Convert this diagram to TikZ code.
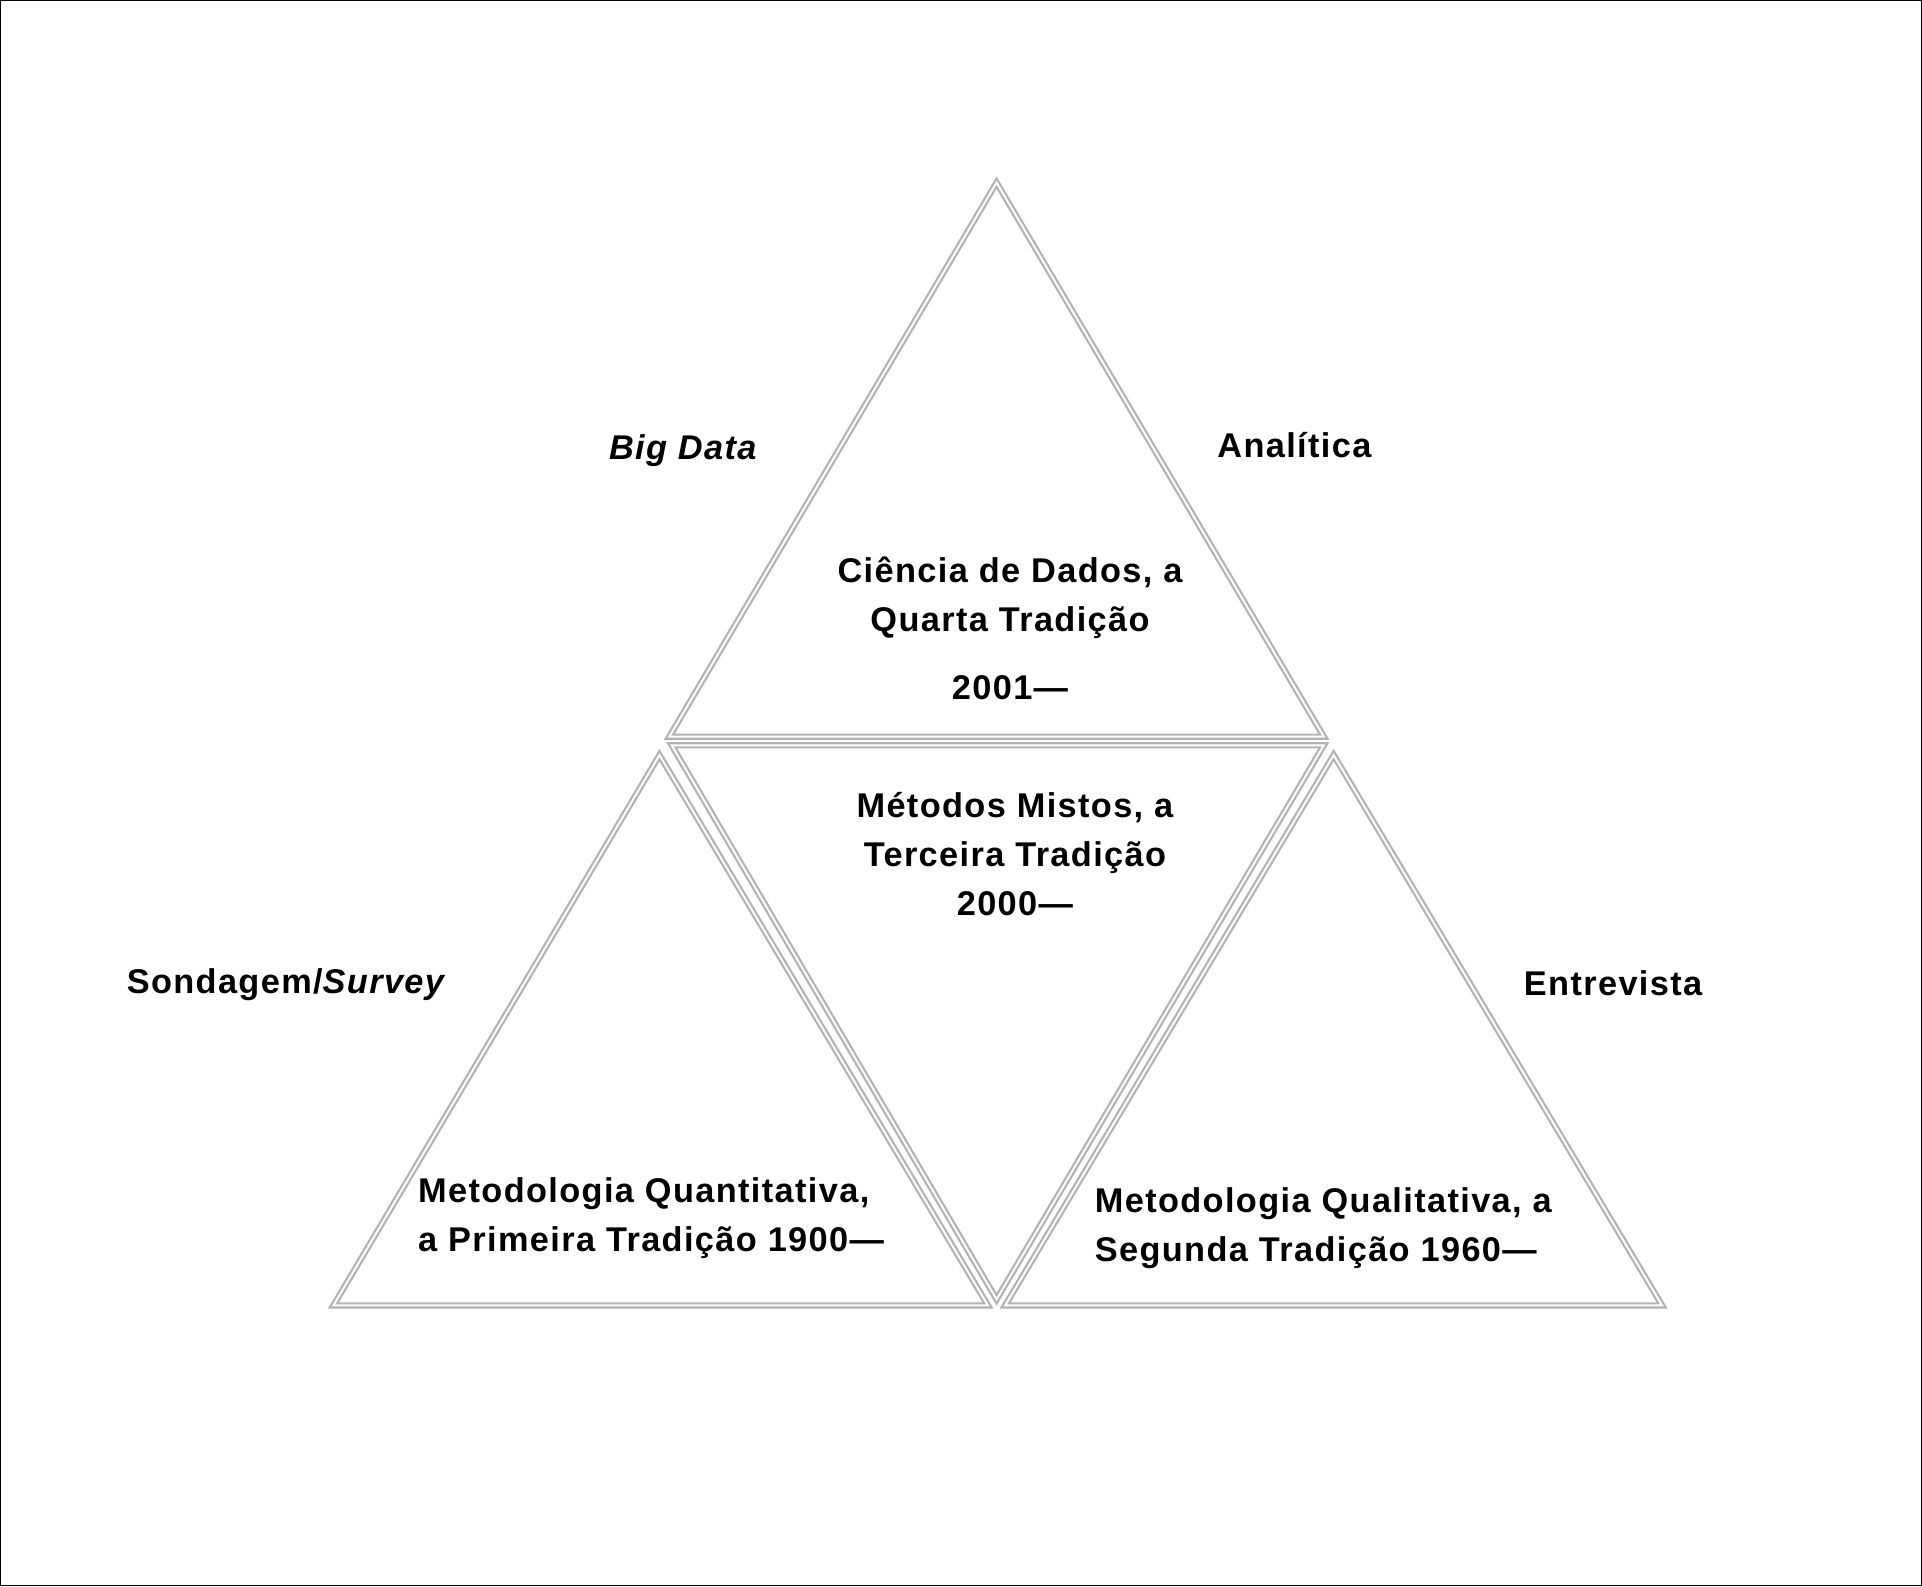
\documentclass[tikz,border=0pt]{standalone}
\usepackage{fontspec}
\setmainfont{Liberation Sans}[LetterSpace=4]
\begin{document}
\begin{tikzpicture}[x=1pt,y=-1pt,
  tri/.style={draw=gray!60,line width=1.8pt,double=white,double distance=1.6pt,line join=miter},
  lbl/.style={font=\fontsize{28}{40}\selectfont\bfseries,inner sep=0pt,align=center},
  lbll/.style={font=\fontsize{28}{40}\selectfont\bfseries,inner sep=0pt,align=left}]
\draw[black,line width=1pt] (0.5,0.5) rectangle (1567.5,1293.5);
\useasboundingbox (0,0) rectangle (1568,1294);
\draw[tri] (813,149) -- (1080,601) -- (546,601) -- cycle;
\draw[tri] (548,608) -- (1080,608) -- (813,1060) -- cycle;
\draw[tri] (538,616) -- (806,1065) -- (272,1065) -- cycle;
\draw[tri] (1088,616) -- (1356,1065) -- (820,1065) -- cycle;
\node[lbl] (bd) at (557,368) {\itshape Big Data};
\node[lbl] (an) at (1056,363) {Analítica};
\node[lbl] (cd) at (824,488) {Ciência de Dados, a\\Quarta Tradição};
\node[lbl] (y1) at (824,561) {2001—};
\node[lbl] (mm) at (828,697) {Métodos Mistos, a\\Terceira Tradição\\2000—};
\node[lbl] (sv) at (234,803) {Sondagem/\textit{Survey}};
\node[lbl] (en) at (1316,802) {Entrevista};
\node[lbll,anchor=west] (mq) at (341,994) {Metodologia Quantitativa,\\a Primeira Tradição 1900—};
\node[lbll,anchor=west] (ml) at (893,1002) {Metodologia Qualitativa, a\\Segunda Tradição 1960—};
\end{tikzpicture}
\end{document}
